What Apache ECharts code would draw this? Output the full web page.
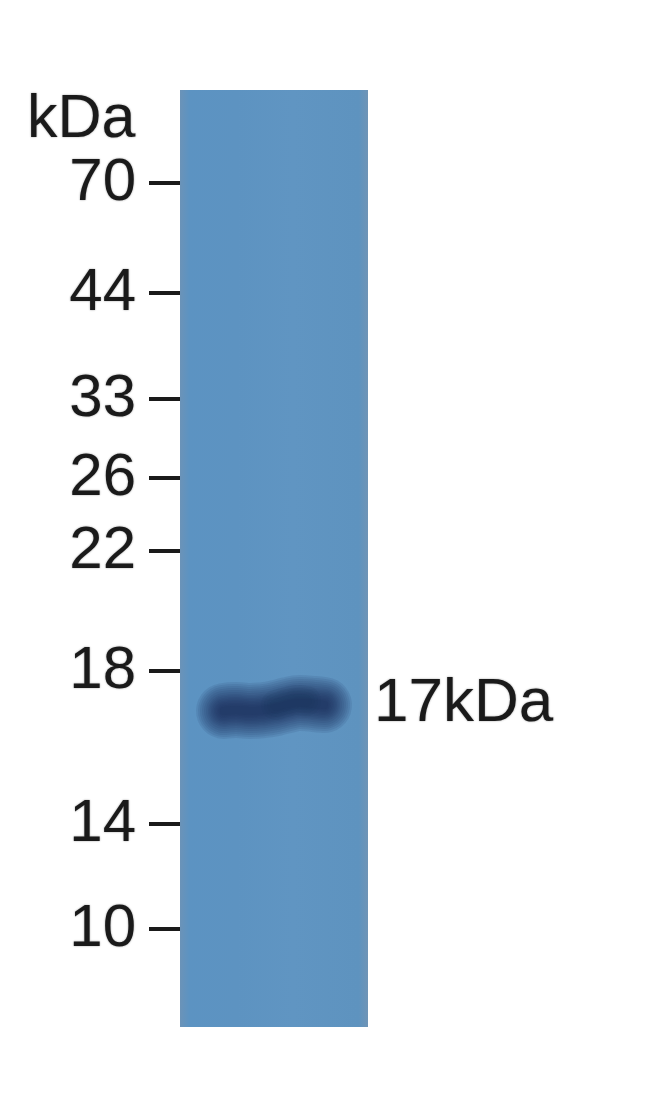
<!DOCTYPE html>
<html>
<head>
<meta charset="utf-8">
<style>html,body{margin:0;padding:0;background:#fff}#c{width:650px;height:1118px}</style>
<script src="https://cdn.jsdelivr.net/npm/echarts@6/dist/echarts.min.js"></script>
</head>
<body>
<div id="c"></div>
<script>
// Marker ladder: kDa label and migration distance down the lane
const markerLabels = ['70','44','33','26','22','18','14','10'];
const markerMigration = [93,203,309,388,461,581,734,839];
// Detected band: position across the lane and migration of its centre
const bandAcross = [44,56,70,84,96,108,120,134,144];
const bandCentre = [621,620,621,620,618,615,613,614,615];
// Darker, slightly higher lobe of the band
const lobeAcross = [96,106,116,126];
const lobeCentre = [615,612,610,611];
const bandLabel = '17kDa';
const bandLabelMigration = 614;
const laneWidth = 188, laneLength = 937;
// Layer widths used to fade the band out softly
const bandWidths = [56,52,48,44,40,36,32,29,26,23,20,17,14,11,8];
const lobeWidths = [30,24,18,12];

const toPairs = (xs, ys) => xs.map((x, i) => [x, ys[i]]);
const layer = (xs, ys, width, alpha) => ({
  type: 'line', data: toPairs(xs, ys), smooth: true, symbol: 'none', silent: true,
  lineStyle: {width, color: `rgba(24,50,88,${alpha})`, cap: 'round', join: 'round'}
});

const chart = echarts.init(document.getElementById('c'), null, {renderer: 'canvas'});
const font = '"Liberation Sans", Arial, sans-serif';
const soft = {textShadowBlur: 2, textShadowColor: 'rgba(30,30,30,0.45)'};
chart.setOption({
  animation: false,
  backgroundColor: '#ffffff',
  title: {text: 'kDa', left: 22, top: 85, textStyle: {fontFamily: font, fontWeight: 'normal', fontSize: 61, color: '#1a1a1a', ...soft}},
  grid: {
    left: 180, top: 90, width: laneWidth, height: laneLength, show: true, borderWidth: 0,
    backgroundColor: new echarts.graphic.LinearGradient(0, 0, 1, 0, [
      {offset: 0, color: '#6b93b8'}, {offset: 0.05, color: '#5c93c2'}, {offset: 0.3, color: '#5d93c1'},
      {offset: 0.6, color: '#6095c2'}, {offset: 0.95, color: '#5e93bf'}, {offset: 1, color: '#6f94b6'}
    ])
  },
  xAxis: {type: 'value', min: 0, max: laneWidth, show: false},
  yAxis: {
    type: 'value', min: 0, max: laneLength, inverse: true, splitLine: {show: false},
    axisLine: {show: false},
    axisTick: {show: true, customValues: markerMigration, length: 31, lineStyle: {color: '#1a1a1a', width: 4}},
    axisLabel: {
      show: true, customValues: markerMigration, margin: 44, fontFamily: font, fontSize: 60, color: '#1a1a1a', ...soft,
      padding: [5, 0, 0, 0],
      formatter: v => markerLabels[markerMigration.indexOf(v)]
    }
  },
  series: [
    ...bandWidths.map(w => layer(bandAcross, bandCentre, w, 0.11)),
    ...lobeWidths.map(w => layer(lobeAcross, lobeCentre, w, 0.09)),
    {
      type: 'scatter', data: [[laneWidth, bandLabelMigration]], symbolSize: 0, silent: true, itemStyle: {opacity: 1},
      label: {show: true, position: 'right', distance: 6, formatter: bandLabel, fontFamily: font, fontSize: 62, color: '#1a1a1a', ...soft}
    }
  ]
});
</script>
</body>
</html>
